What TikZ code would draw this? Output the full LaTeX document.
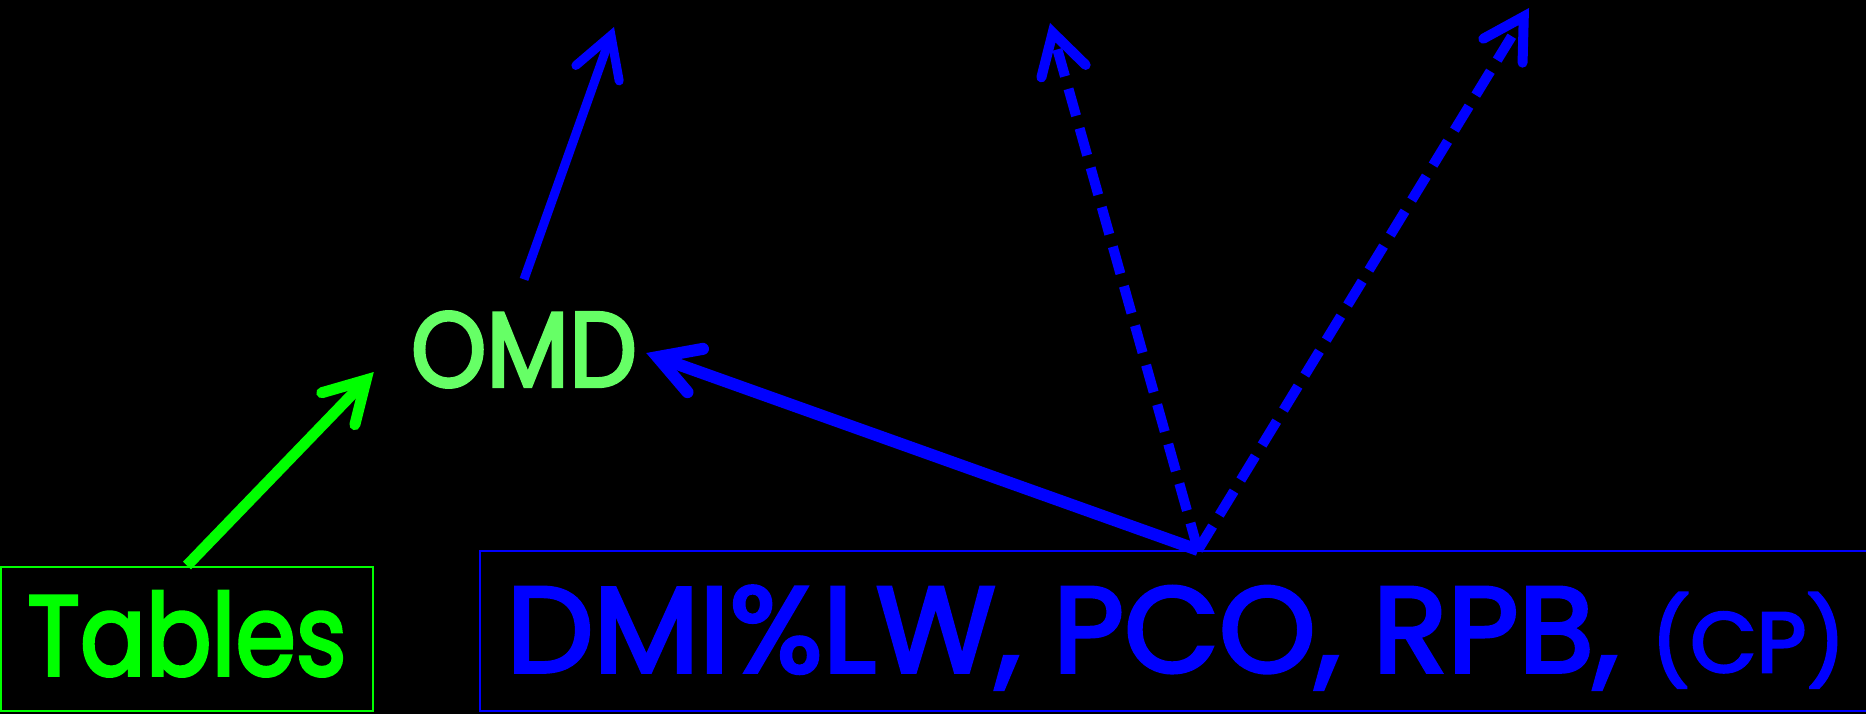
\documentclass[tikz,border=0pt]{standalone}
\usepackage{fontspec}
\setmainfont{Poppins}[FakeBold=3]
\usetikzlibrary{arrows.meta}

\definecolor{pureblue}{HTML}{0000FF}
\definecolor{puregreen}{HTML}{00FF00}
\definecolor{softgreen}{HTML}{66FF66}

\tikzset{
  barbtip/.style={-{Straight Barb[length=40pt,width=46pt,line cap=round,line join=miter]}},
  framebox/.style={draw, line width=2pt, inner sep=0pt, align=center},
  tablebox/.style={framebox, draw=puregreen, text=puregreen,
    minimum width=372pt, minimum height=144.5pt, text height=90pt, text depth=17pt},
  listbox/.style={framebox, draw=pureblue, text=pureblue,
    minimum width=1392pt, minimum height=160pt, text height=100pt, text depth=18pt},
  omdlabel/.style={inner sep=0pt, text=softgreen},
  greenlink/.style={barbtip, draw=puregreen, line width=11pt},
  bluelink/.style={barbtip, draw=pureblue, line width=9pt},
  heavylink/.style={barbtip, draw=pureblue, line width=12pt},
  dashlink/.style={barbtip, draw=pureblue, line width=10pt, dash pattern=on 28pt off 13pt},
}

\begin{document}
\begin{tikzpicture}[x=1pt,y=-1pt]
  % canvas
  \fill[black] (0,0) rectangle (1866,714);
  \useasboundingbox (0,0) rectangle (1866,714);

  % boxes and labels
  \node[tablebox] (tables) at (187,638.75)
    {\resizebox{319pt}{84pt}{Tables}};
  \node[listbox] (list) at (1176,631)
    {\resizebox{1338pt}{86pt}{DMI\%LW,\ PCO,\ RPB,\ {\fontsize{7}{8}\selectfont(CP)}}};
  \node[omdlabel] (omd) at (524,349.5)
    {\resizebox{226pt}{75pt}{OMD}};

  % free arrow ends
  \coordinate (up1) at (614,27);
  \coordinate (up2) at (1050,23);
  \coordinate (up3) at (1529,8);
  \coordinate (hub) at ([xshift=22pt]list.north);

  % connectors
  \draw[greenlink] (tables.north) -- ([shift={(-37pt,-22.5pt)}]omd.west);
  \draw[bluelink] ([yshift=32pt]omd.north) -- (up1);
  \draw[heavylink] (hub) -- ([shift={(9pt,-3.5pt)}]omd.east);
  \draw[dashlink] (hub) -- (up2);
  \draw[dashlink] (hub) -- (up3);
\end{tikzpicture}
\end{document}
